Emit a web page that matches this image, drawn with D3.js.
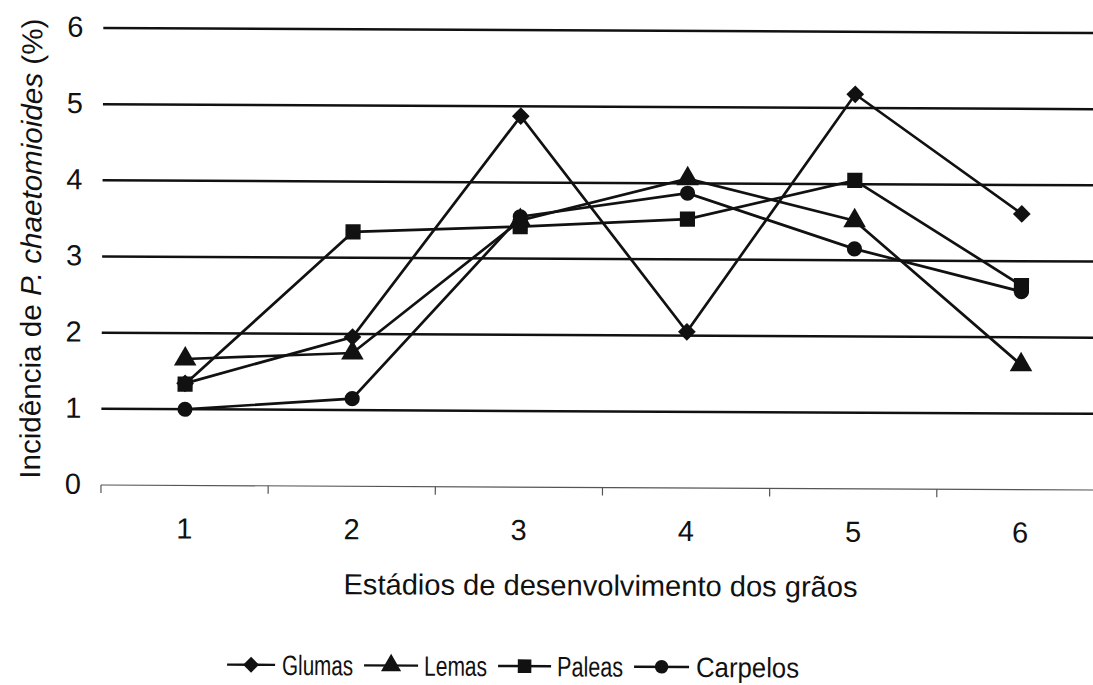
<!DOCTYPE html>
<html>
<head>
<meta charset="utf-8">
<script src="https://cdn.jsdelivr.net/npm/d3@7"></script>
<style>
  html, body { margin: 0; padding: 0; background: #fff; }
  svg { display: block; }
  text { font-family: "Liberation Sans", Arimo, Arial, Helvetica, sans-serif; fill: #111; }
</style>
</head>
<body>
<svg id="chart" width="1093" height="685"></svg>
<script>
// Growth stages on the x axis
const stages = ["1", "2", "3", "4", "5", "6"];
const yTicks = [0, 1, 2, 3, 4, 5, 6];

// Incidence (%) per grain part
const glumas   = [1.34, 1.96, 4.87, 2.05, 5.18, 3.62];
const lemas    = [1.66, 1.75, 3.50, 4.06, 3.52, 1.64];
const paleas   = [1.33, 3.34, 3.42, 3.53, 4.05, 2.68];
const carpelos = [1.00, 1.15, 3.55, 3.87, 3.15, 2.60];

const seriesNames = ["Glumas", "Lemas", "Paleas", "Carpelos"];
const seriesValues = [glumas, lemas, paleas, carpelos];
const seriesSymbols = [d3.symbolDiamond2, d3.symbolTriangle, d3.symbolSquare, d3.symbolCircle];

const svg = d3.select("#chart");
svg.append("rect").attr("width", 1093).attr("height", 685).attr("fill", "#fff");

const plotLeft = 101, plotRight = 1104, plotTop = 28, plotBottom = 485;

const x = d3.scaleBand().domain(stages).range([plotLeft, plotRight]);
const y = d3.scaleLinear().domain([0, 6]).range([plotBottom, plotTop]);

// the whole figure sits very slightly rotated
const g = svg.append("g").attr("transform", `rotate(0.29, ${plotLeft}, ${plotBottom})`);

// horizontal gridlines
g.append("g")
  .selectAll("line")
  .data(yTicks.filter(d => d > 0))
  .join("line")
  .attr("x1", plotLeft).attr("x2", plotRight)
  .attr("y1", d => y(d)).attr("y2", d => y(d))
  .attr("stroke", "#111").attr("stroke-width", 2.5);

// x axis with ticks between categories
const xAxis = g.append("g").attr("transform", `translate(0,${plotBottom})`);
xAxis.append("line")
  .attr("x1", plotLeft).attr("x2", plotRight)
  .attr("stroke", "#555").attr("stroke-width", 1.2);
const boundaries = stages.map(s => x(s)).concat([plotRight]);
xAxis.selectAll("line.tick")
  .data(boundaries)
  .join("line")
  .attr("class", "tick")
  .attr("x1", d => d).attr("x2", d => d)
  .attr("y1", 0).attr("y2", 8)
  .attr("stroke", "#555").attr("stroke-width", 1.2);
xAxis.selectAll("text")
  .data(stages)
  .join("text")
  .attr("x", d => x(d) + x.bandwidth() / 2)
  .attr("y", 53)
  .attr("text-anchor", "middle")
  .attr("font-size", 29)
  .text(d => d);

// y tick labels
g.append("g")
  .selectAll("text")
  .data(yTicks)
  .join("text")
  .attr("x", 81)
  .attr("y", d => y(d) + 9)
  .attr("text-anchor", "end")
  .attr("font-size", 29)
  .text(d => d);

// axis titles
g.append("text")
  .attr("x", 601).attr("y", 593)
  .attr("text-anchor", "middle")
  .attr("font-size", 29)
  .attr("textLength", 514)
  .attr("lengthAdjust", "spacingAndGlyphs")
  .text("Estádios de desenvolvimento dos grãos");

const yTitle = g.append("text")
  .attr("transform", "translate(40,249) rotate(-90)")
  .attr("text-anchor", "middle")
  .attr("font-size", 29)
  .attr("textLength", 460)
  .attr("lengthAdjust", "spacingAndGlyphs");
yTitle.append("tspan").text("Incidência de ");
yTitle.append("tspan").attr("font-style", "italic").text("P. chaetomioides");
yTitle.append("tspan").text(" (%)");

// series lines and markers
const cx = s => x(s) + x.bandwidth() / 2;
const line = d3.line().x((d, i) => cx(stages[i])).y(d => y(d));
const symbolSizes = [200, 220, 230, 180];

seriesValues.forEach((vals, k) => {
  g.append("path")
    .datum(vals)
    .attr("d", line)
    .attr("fill", "none")
    .attr("stroke", "#111")
    .attr("stroke-width", 2.7);
  g.append("g")
    .selectAll("path")
    .data(vals)
    .join("path")
    .attr("transform", (d, i) => `translate(${cx(stages[i])},${y(d)})`)
    .attr("d", d3.symbol().type(seriesSymbols[k]).size(symbolSizes[k]))
    .attr("fill", "#111");
});

// legend
const legendItems = [
  { x1: 228, x2: 276, tx: 283, tw: 71 },
  { x1: 365, x2: 419, tx: 425, tw: 63 },
  { x1: 499, x2: 552, tx: 558, tw: 66 },
  { x1: 635, x2: 690, tx: 697, tw: 103 }
];
const legend = g.append("g").attr("transform", "translate(0,664)");
legendItems.forEach((it, k) => {
  legend.append("line")
    .attr("x1", it.x1).attr("x2", it.x2)
    .attr("stroke", "#111").attr("stroke-width", 2.4);
  legend.append("path")
    .attr("transform", `translate(${(it.x1 + it.x2) / 2},0)`)
    .attr("d", d3.symbol().type(seriesSymbols[k]).size(symbolSizes[k] * 0.8))
    .attr("fill", "#111");
  legend.append("text")
    .attr("x", it.tx).attr("y", 10)
    .attr("font-size", 28)
    .attr("textLength", it.tw)
    .attr("lengthAdjust", "spacingAndGlyphs")
    .text(seriesNames[k]);
});
</script>
</body>
</html>
